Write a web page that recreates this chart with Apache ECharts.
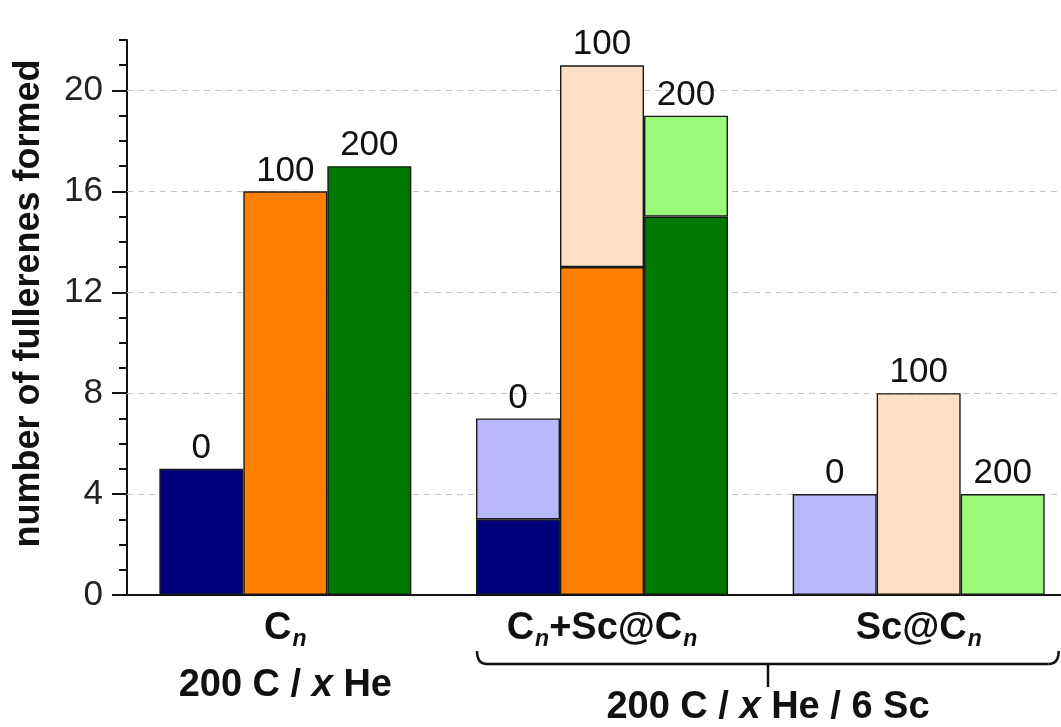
<!DOCTYPE html>
<html>
<head>
<meta charset="utf-8">
<script src="https://cdn.jsdelivr.net/npm/echarts@6/dist/echarts.min.js"></script>
<style>
  html, body { margin: 0; padding: 0; background: #fff; overflow: hidden; }
  #chart { width: 1090px; height: 727px; }
</style>
</head>
<body>
<div id="chart"></div>
<script>
// Product groups on the x axis
const categories = ['Cn', 'Cn+Sc@Cn', 'Sc@Cn'];
// Helium amount (x) for each bar slot, printed above each stack
const heliumLabels = ['0', '100', '200'];
// Empty fullerenes Cn formed, per helium amount
const emptyHe0 = [5, 3, null];
const emptyHe100 = [16, 13, null];
const emptyHe200 = [17, 15, null];
// Endohedral Sc@Cn formed, per helium amount
const scHe0 = [null, 4, 4];
const scHe100 = [null, 8, 8];
const scHe200 = [null, 4, 4];
// Y axis
const yMax = 22;
const yMajorTicks = [0, 4, 8, 12, 16, 20];
const yMinorTicks = [1, 2, 3, 5, 6, 7, 9, 10, 11, 13, 14, 15, 17, 18, 19, 21, 22];

const FONT = '"Liberation Sans", Arial, sans-serif';
const INK = '#111';
const chart = echarts.init(document.getElementById('chart'));

const labelRich = {
  b: { fontFamily: FONT, fontSize: 38, fontWeight: 'bold', color: INK, lineHeight: 44, verticalAlign: 'middle' },
  sub: { fontFamily: FONT, fontSize: 23, fontWeight: 'bold', fontStyle: 'italic', color: INK,
         lineHeight: 22, padding: [38, 0, 0, 1], verticalAlign: 'bottom' },
  b2: { fontFamily: FONT, fontSize: 38, fontWeight: 'bold', color: INK, lineHeight: 70 },
  bi2: { fontFamily: FONT, fontSize: 38, fontWeight: 'bold', fontStyle: 'italic', color: INK, lineHeight: 70 }
};
const categoryText = {
  'Cn': '{b|C}{sub|n}\n{b2|200 C / }{bi2|x}{b2| He}',
  'Cn+Sc@Cn': '{b|C}{sub|n}{b|+Sc@C}{sub|n}',
  'Sc@Cn': '{b|Sc@C}{sub|n}'
};

const slots = [
  { stack: 's0', label: heliumLabels[0], empty: emptyHe0, sc: scHe0, c1: '#00007c', c2: '#b7b7fa' },
  { stack: 's1', label: heliumLabels[1], empty: emptyHe100, sc: scHe100, c1: '#ff8000', c2: '#fddfc5' },
  { stack: 's2', label: heliumLabels[2], empty: emptyHe200, sc: scHe200, c1: '#007800', c2: '#9bfa7a' }
];

const barLabel = (txt) => ({
  show: true, position: 'top', distance: 3, formatter: txt,
  fontFamily: FONT, fontSize: 35, color: INK
});

const series = [];
slots.forEach((s, k) => {
  const itemStyle = (c) => ({ color: c, borderColor: '#1a1a1a', borderWidth: 1.4 });
  series.push({
    type: 'bar', stack: s.stack, barWidth: 84, barGap: '0%', z: 2,
    itemStyle: itemStyle(s.c1),
    data: s.empty.map((v, i) => ({
      value: v,
      label: s.sc[i] == null ? barLabel(s.label) : { show: false }
    })),
    markLine: k === 0 ? {
      silent: true, symbol: 'none', z: 1,
      label: { show: false },
      lineStyle: { type: [6, 5], color: '#c4c4c4', width: 1 },
      data: yMajorTicks.filter(v => v > 0).map(v => ({ yAxis: v }))
    } : undefined
  });
  series.push({
    type: 'bar', stack: s.stack, barWidth: 84, barGap: '0%', z: 2,
    itemStyle: itemStyle(s.c2),
    data: s.sc.map(v => ({ value: v, label: v != null ? barLabel(s.label) : { show: false } }))
  });
});

const option = {
  animation: false,
  backgroundColor: '#fff',
  grid: { left: 127, top: 40, width: 950, height: 555 },
  xAxis: {
    type: 'category',
    data: categories,
    axisLine: { lineStyle: { color: INK, width: 2 } },
    axisTick: { alignWithLabel: true, length: 8, lineStyle: { color: INK, width: 2 } },
    axisLabel: {
      margin: 12, interval: 0,
      formatter: (v) => categoryText[v],
      rich: labelRich
    }
  },
  yAxis: [
    {
      type: 'value', min: 0, max: yMax,
      name: 'number of fullerenes formed',
      nameLocation: 'middle', nameGap: 80,
      nameTextStyle: { fontFamily: FONT, fontSize: 36, fontWeight: 'bold', color: INK, padding: [0, 0, 0, 28] },
      axisLine: { show: true, lineStyle: { color: INK, width: 2 } },
      axisTick: { show: true, customValues: yMajorTicks, length: 15, lineStyle: { color: INK, width: 2 } },
      axisLabel: { customValues: yMajorTicks, margin: 24, fontFamily: FONT, fontSize: 35, color: '#222' },
      splitLine: { show: false }
    },
    {
      type: 'value', min: 0, max: yMax, position: 'left',
      axisLine: { show: false },
      axisTick: { show: true, customValues: yMinorTicks, length: 8, lineStyle: { color: INK, width: 2 } },
      axisLabel: { show: false },
      splitLine: { show: false }
    }
  ],
  series: series
};
chart.setOption(option);

// Brace grouping the two scandium categories, with its caption
const xa = chart.convertToPixel({ xAxisIndex: 0 }, categories[1]);
const xb = chart.convertToPixel({ xAxisIndex: 0 }, categories[2]);
const x1 = xa - 125, x2 = xb + 140, xm = Math.round((x1 + x2) / 2);
const yb = 664, yTop = 651, r = 10;
const braceStyle = { fill: null, stroke: INK, lineWidth: 2.5 };
chart.setOption({
  graphic: [
    { type: 'bezierCurve', z: 10, shape: { x1: x1, y1: yTop, cpx1: x1, cpy1: yb, x2: x1 + r, y2: yb }, style: braceStyle },
    { type: 'line', z: 10, shape: { x1: x1 + r, y1: yb, x2: x2 - r, y2: yb }, style: braceStyle },
    { type: 'bezierCurve', z: 10, shape: { x1: x2 - r, y1: yb, cpx1: x2, cpy1: yb, x2: x2, y2: yTop }, style: braceStyle },
    { type: 'line', z: 10, shape: { x1: xm, y1: yb, x2: xm, y2: 687 }, style: braceStyle },
    {
      type: 'text', z: 10, x: xm, y: 708,
      style: {
        text: '{b|200 C / }{i|x}{b| He / 6 Sc}',
        align: 'center', verticalAlign: 'middle',
        rich: {
          b: { fontFamily: FONT, fontSize: 38, fontWeight: 'bold', fill: INK },
          i: { fontFamily: FONT, fontSize: 38, fontWeight: 'bold', fontStyle: 'italic', fill: INK }
        }
      }
    }
  ]
});
</script>
</body>
</html>
